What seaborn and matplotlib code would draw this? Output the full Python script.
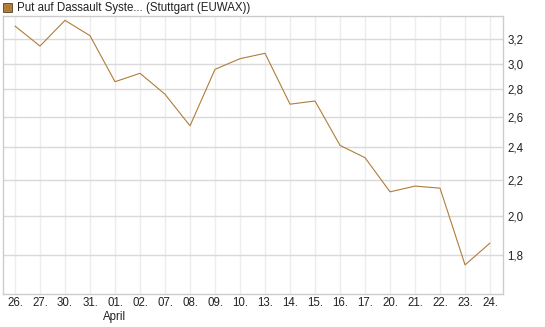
import pandas as pd
import numpy as np
import matplotlib
matplotlib.use("Agg")
import matplotlib.pyplot as plt
import matplotlib.ticker as mticker
from matplotlib.patches import Rectangle
import seaborn as sns

# Data
days = ["26.", "27.", "30.", "31.", "01.", "02.", "07.", "08.", "09.", "10.",
        "13.", "14.", "15.", "16.", "17.", "20.", "21.", "22.", "23.", "24."]
prices = [3.315, 3.143, 3.366, 3.231, 2.858, 2.923, 2.764, 2.541, 2.954, 3.039,
          3.083, 2.692, 2.715, 2.412, 2.334, 2.131, 2.164, 2.152, 1.754, 1.859]
y_ticks = [1.8, 2.0, 2.2, 2.4, 2.6, 2.8, 3.0, 3.2]
title = "Put auf Dassault Syste... (Stuttgart (EUWAX))"

df = pd.DataFrame({"pos": np.arange(len(days)), "price": prices})

sns.set_style("white")
plt.rcParams["font.family"] = ["Liberation Sans", "DejaVu Sans"]

fig = plt.figure(figsize=(5.45, 3.27), dpi=100)
ax = fig.add_axes([0.0055, 0.1009, 0.9175, 0.8501])

line_color = "#b07d3a"
sns.lineplot(data=df, x="pos", y="price", ax=ax, color=line_color, linewidth=0.8)

ax.set_yscale("log")
ax.set_ylim(1.623, 3.405)
ax.set_xlim(-0.48, 19.52)

ax.yaxis.set_major_locator(mticker.FixedLocator(y_ticks))
ax.yaxis.set_minor_locator(mticker.NullLocator())
ax.yaxis.set_major_formatter(mticker.FuncFormatter(lambda v, p: f"{v:.1f}".replace(".", ",")))
ax.yaxis.tick_right()

labels = [d if d != "01." else "01.\nApril" for d in days]
ax.set_xticks(df["pos"])
ax.set_xticklabels(labels)

ax.tick_params(axis="both", length=0, labelsize=8.3, colors="#222222")
ax.tick_params(axis="y", pad=3)
ax.tick_params(axis="x", pad=2)
for lbl in ax.get_xticklabels():
    lbl.set_horizontalalignment("center")
    lbl.set_verticalalignment("top")
    lbl.set_multialignment("center")

ax.grid(axis="y", color="#d9d9d9", linewidth=1)
ax.grid(axis="x", color="#ededed", linewidth=1)
ax.set_axisbelow(True)
for s in ax.spines.values():
    s.set_color("#cccccc")
    s.set_linewidth(1)

ax.set_xlabel("")
ax.set_ylabel("")

# Legend-like title with colored square
fig.patches.append(Rectangle((3 / 545, 1 - 12 / 327), 9 / 545, 9 / 327,
                             transform=fig.transFigure, facecolor=line_color,
                             edgecolor="#5a4020", linewidth=0.6))
fig.text(17 / 545, 1 - 7.5 / 327, title, fontsize=8.3, va="center", ha="left", color="#222222")

fig.savefig("out.png", dpi=100)
